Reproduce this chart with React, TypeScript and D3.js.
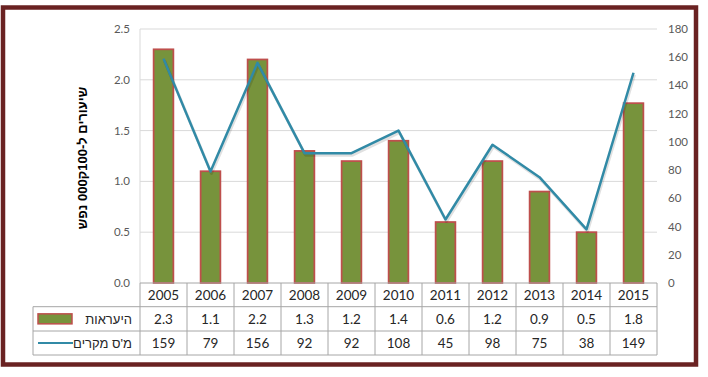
import React from "react";
import * as d3 from "d3";

const years = ["2005","2006","2007","2008","2009","2010","2011","2012","2013","2014","2015"];
const incidence = [2.3, 1.1, 2.2, 1.3, 1.2, 1.4, 0.6, 1.2, 0.9, 0.5, 1.77];
const cases = [159, 79, 156, 92, 92, 108, 45, 98, 75, 38, 149];
const leftTicks = [0, 0.5, 1.0, 1.5, 2.0, 2.5];
const rightTicks = [0, 20, 40, 60, 80, 100, 120, 140, 160, 180];
const barLabel = "היעראות";
const lineLabel = "מ'ס מקרים";
const yTitle = "שיעורים ל-100ק000 נפש";

const W = 708, H = 377;
const plotL = 140, plotR = 657, plotT = 29, plotB = 283;
const row1B = 306.7, row2B = 331, row3B = 355;
const tableL = 33;
const font = "Lato, 'Liberation Sans', 'DejaVu Sans', sans-serif";
const hebFont = "'Liberation Sans', 'DejaVu Sans', sans-serif";
const barFill = "#77933C";
const barStroke = "#BE4F4C";
const lineColor = "#318AA6";
const gridColor = "#D9D9D9";
const tableColor = "#A6A6A6";

export default function App() {
  const x = d3.scaleBand<string>().domain(years).range([plotL, plotR]).paddingInner(0).paddingOuter(0);
  const yL = d3.scaleLinear().domain([0, 2.5]).range([plotB, plotT]);
  const yR = d3.scaleLinear().domain([0, 180]).range([plotB, plotT]);
  const bw = x.bandwidth();
  const barW = bw * 0.42;
  const line = d3.line<number>()
    .x((_, i) => (x(years[i]) as number) + bw / 2)
    .y((d) => yR(d));
  const colEdges = years.map((y) => x(y) as number).concat([plotR]);
  const r2c = (row1B + row2B) / 2;
  const r3c = (row2B + row3B) / 2;
  const r1c = (plotB + row1B) / 2;

  return (
    <svg width={W} height={H} style={{ position: "absolute", left: 0, top: 0 }}>
      <rect x={0} y={0} width={W} height={H} fill="#ffffff" />
      {leftTicks.filter((t) => t > 0).map((t) => (
        <line key={"g" + t} x1={plotL} x2={plotR} y1={yL(t)} y2={yL(t)} stroke={gridColor} strokeWidth={1} />
      ))}
      <line x1={plotL} x2={plotL} y1={plotT} y2={plotB} stroke={gridColor} strokeWidth={1} />
      {leftTicks.map((t) => (
        <text key={"lt" + t} x={130} y={yL(t)} dy="0.35em" textAnchor="end" fontSize={11.5} fill="#595959" fontFamily={font}>
          {t.toFixed(1)}
        </text>
      ))}
      {rightTicks.map((t) => (
        <text key={"rt" + t} x={668} y={yR(t)} dy="0.35em" textAnchor="start" fontSize={11.5} fill="#595959" fontFamily={font}>
          {t}
        </text>
      ))}
      <text transform={`translate(82,${(plotT + plotB) / 2 + 2}) rotate(-90)`} textAnchor="middle" fontSize={13} fontWeight="bold" fill="#000" fontFamily={hebFont} direction="rtl" dy="0.35em">
        {yTitle}
      </text>
      {incidence.map((v, i) => {
        const cx = (x(years[i]) as number) + bw / 2;
        return (
          <rect key={"b" + i} x={cx - barW / 2} y={yL(v)} width={barW} height={plotB - yL(v)} fill={barFill} stroke={barStroke} strokeWidth={1.75} />
        );
      })}
      <path d={line(cases) as string} fill="none" stroke="#000" strokeOpacity={0.12} strokeWidth={3} transform="translate(1,2)" strokeLinejoin="round" />
      <path d={line(cases) as string} fill="none" stroke={lineColor} strokeWidth={2.5} strokeLinejoin="round" />
      <g stroke={tableColor} strokeWidth={1}>
        <line x1={plotL} x2={plotR} y1={plotB} y2={plotB} />
        <line x1={tableL} x2={plotR} y1={row1B} y2={row1B} />
        <line x1={tableL} x2={plotR} y1={row2B} y2={row2B} />
        <line x1={tableL} x2={plotR} y1={row3B} y2={row3B} />
        <line x1={tableL} x2={tableL} y1={row1B} y2={row3B} />
        {colEdges.map((e, i) => (
          <line key={"c" + i} x1={e} x2={e} y1={plotB} y2={row3B} />
        ))}
      </g>
      {years.map((yr, i) => {
        const cx = (x(yr) as number) + bw / 2;
        return (
          <g key={"t" + i} fontFamily={font} fontSize={13.5} fill="#262626" textAnchor="middle">
            <text x={cx} y={r1c} dy="0.36em">{yr}</text>
            <text x={cx} y={r2c} dy="0.36em">{incidence[i].toFixed(1)}</text>
            <text x={cx} y={r3c} dy="0.36em">{cases[i]}</text>
          </g>
        );
      })}
      <rect x={38} y={r2c - 5} width={34} height={10} fill={barFill} stroke={barStroke} strokeWidth={1.5} />
      <text x={132} y={r2c} dy="0.36em" textAnchor="end" fontSize={13} fill="#262626" fontFamily={hebFont}>{barLabel}</text>
      <line x1={38} x2={73} y1={r3c} y2={r3c} stroke={lineColor} strokeWidth={2} />
      <text x={132} y={r3c} dy="0.36em" textAnchor="end" fontSize={13} fill="#262626" fontFamily={hebFont}>{lineLabel}</text>
      <rect x={3} y={7.5} width={693} height={357} fill="none" stroke="#6A2222" strokeWidth={4.5} />
    </svg>
  );
}
